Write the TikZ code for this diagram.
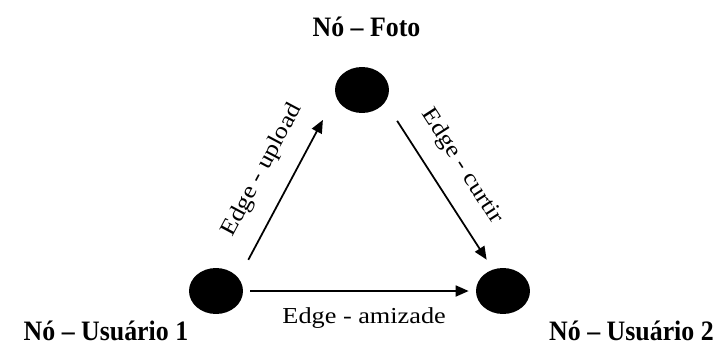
\documentclass[tikz,border=0pt]{standalone}
\usepackage{fontspec}
\setmainfont{Liberation Serif}
\newfontfamily\edgefont{Liberation Serif}[FakeStretch=1.15]
\newfontfamily\titlefont{Liberation Serif}[FakeStretch=0.92]
\usetikzlibrary{shapes}
\usetikzlibrary{arrows.meta}

\begin{document}
\begin{tikzpicture}[
    x=0.02cm,
    y=-0.02cm,
    >={Triangle[length=0.26cm,width=0.22cm]},
    vertex/.style={
        ellipse,
        fill=black,
        inner sep=0pt,
        minimum width=1.08cm,
        minimum height=0.92cm
    },
    title/.style={
        font={\titlefont\bfseries\fontsize{16}{18}\selectfont},
        anchor=base
    },
    edgelabel/.style={
        font={\edgefont\fontsize{13}{15}\selectfont},
        inner sep=0pt
    },
    arrow/.style={->, line width=1pt}
]
\useasboundingbox (0,0) rectangle (714,345);

% Nodes
\node[vertex] (foto) at (362,90) {};
\node[vertex] (usuario1) at (216,291) {};
\node[vertex] (usuario2) at (503,291) {};

\node[title] (tfoto) at (366.5,36) {Nó – Foto};
\node[title] (tusuario1) at (106,340) {Nó – Usuário 1};
\node[title] (tusuario2) at (631.5,340) {Nó – Usuário 2};

% Arrows
\draw[arrow, shorten <=0.41cm, shorten >=0.54cm] (usuario1.30) -- (foto.193)
    node[edgelabel, pos=0.515, sloped, above=0.37cm] {Edge - upload};
\draw[arrow, shorten <=0.44cm, shorten >=0.23cm] (foto.332) -- (usuario2.115)
    node[edgelabel, pos=0.48, sloped, above=0.37cm] {Edge - curtir};
\draw[arrow, shorten <=0.14cm, shorten >=0.14cm] (usuario1.east) -- (usuario2.west)
    node[edgelabel, pos=0.52, below=0.32cm] {Edge - amizade};

\end{tikzpicture}
\end{document}
